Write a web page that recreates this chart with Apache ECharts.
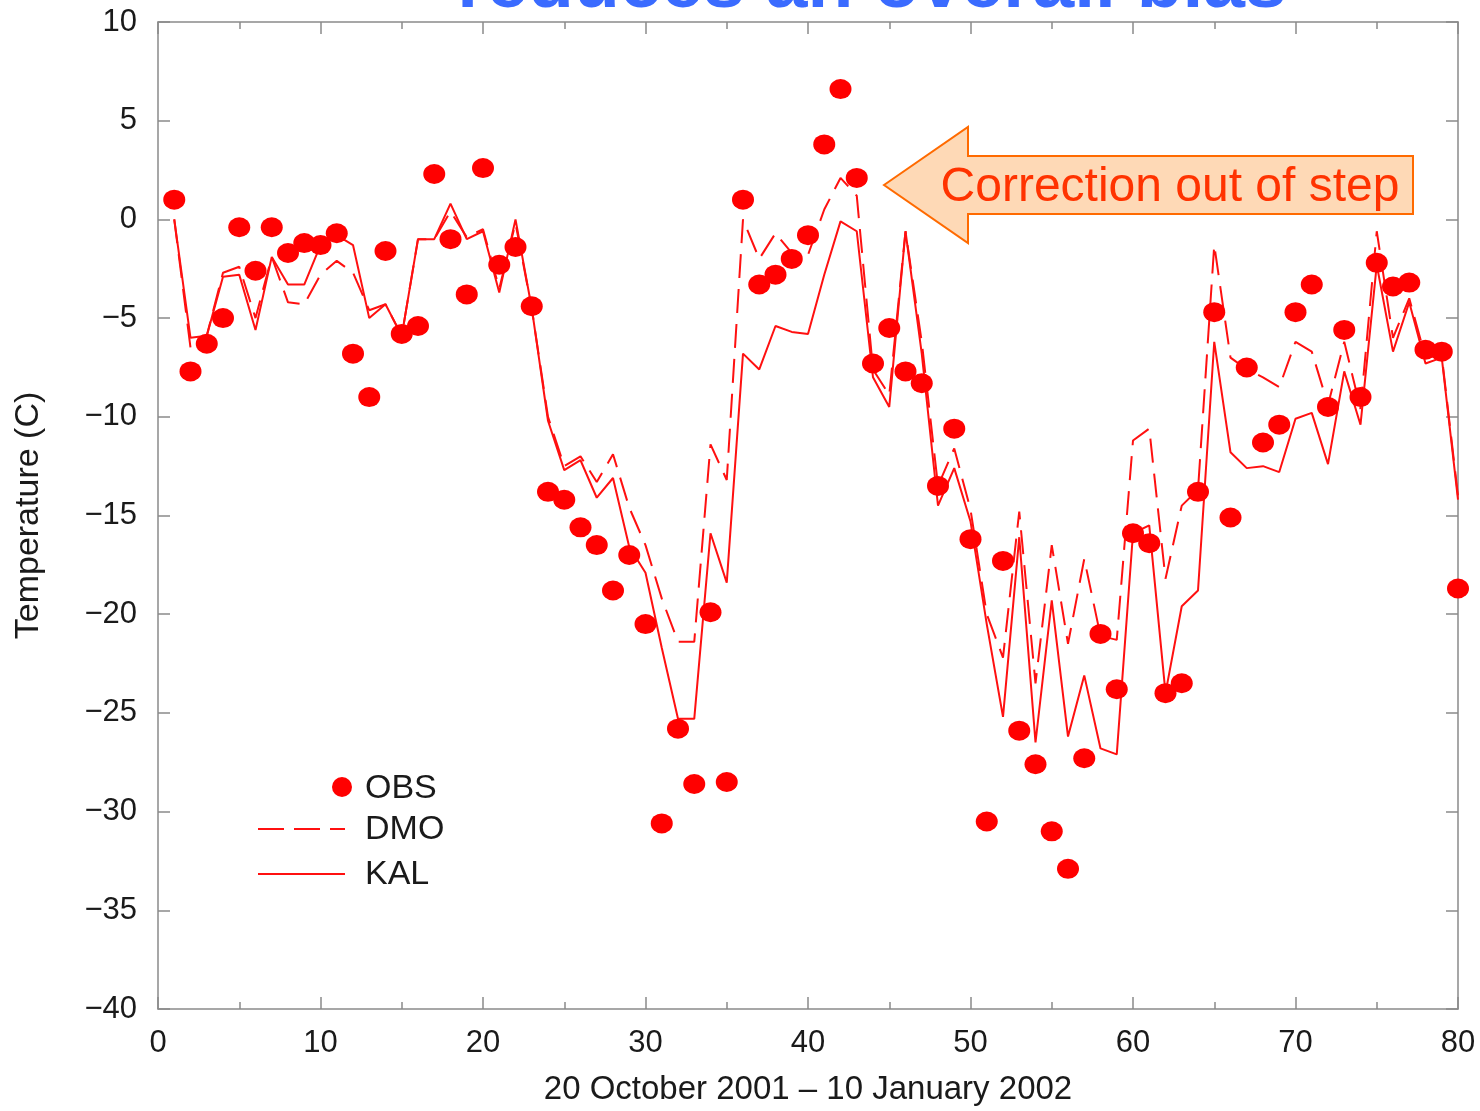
<!DOCTYPE html>
<html>
<head>
<meta charset="utf-8">
<title>Temperature: OBS / DMO / KAL</title>
<script src="https://cdn.jsdelivr.net/npm/echarts@6/dist/echarts.min.js"></script>
<style>
  html, body { margin: 0; padding: 0; background: #fff; }
  #chart { width: 1480px; height: 1111px; }
</style>
</head>
<body>
<div id="chart"></div>
<script>
// Daily 2 m temperature (C), 20 October 2001 - 10 January 2002, day 1..80
const obs = [
  1.0, -7.7, -6.3, -5.0, -0.4, -2.6, -0.4, -1.7, -1.2, -1.3,
  -0.7, -6.8, -9.0, -1.6, -5.8, -5.4, 2.3, -1.0, -3.8, 2.6,
  -2.3, -1.4, -4.4, -13.8, -14.2, -15.6, -16.5, -18.8, -17.0, -20.5,
  -30.6, -25.8, -28.6, -19.9, -28.5, 1.0, -3.3, -2.8, -2.0, -0.8,
  3.8, 6.6, 2.1, -7.3, -5.5, -7.7, -8.3, -13.5, -10.6, -16.2,
  -30.5, -17.3, -25.9, -27.6, -31.0, -32.9, -27.3, -21.0, -23.8, -15.9,
  -16.4, -24.0, -23.5, -13.8, -4.7, -15.1, -7.5, -11.3, -10.4, -4.7,
  -3.3, -9.5, -5.6, -9.0, -2.2, -3.4, -3.2, -6.6, -6.7, -18.7
];
// Direct model output
const dmo = [
  0.0, -6.5, -5.9, -2.7, -2.4, -5.0, -1.9, -4.2, -4.3, -2.8,
  -2.1, -2.7, -4.6, -4.3, -5.9, -1.0, -1.0, 0.4, -0.9, -0.5,
  -3.5, -0.2, -4.5, -10.0, -12.5, -12.0, -13.3, -11.9, -14.6, -16.5,
  -19.2, -21.4, -21.4, -11.4, -13.2, 0.0, -2.0, -0.7, -1.7, -1.8,
  0.5, 2.1, 1.2, -7.6, -8.9, -0.6, -6.2, -13.5, -11.6, -14.7,
  -20.0, -22.2, -14.8, -23.5, -16.5, -21.5, -17.2, -21.1, -21.3, -11.2,
  -10.6, -18.2, -14.5, -13.7, -1.3, -7.0, -7.6, -8.0, -8.5, -6.2,
  -6.7, -9.4, -6.2, -9.6, -0.6, -6.0, -4.0, -7.0, -6.9, -14.0
];
// Kalman-filtered forecast
const kal = [
  0.0, -6.0, -5.9, -2.9, -2.8, -5.6, -1.9, -3.3, -3.3, -1.3,
  -0.8, -1.3, -5.0, -4.3, -5.9, -1.0, -1.0, 0.8, -1.0, -0.6,
  -3.7, 0.0, -4.5, -10.2, -12.7, -12.2, -14.1, -13.1, -16.6, -17.9,
  -21.7, -25.3, -25.3, -15.9, -18.4, -6.8, -7.6, -5.4, -5.7, -5.8,
  -2.8, -0.1, -0.6, -8.0, -9.5, -0.6, -6.8, -14.5, -12.6, -15.3,
  -20.5, -25.2, -16.1, -26.5, -19.3, -26.2, -23.1, -26.8, -27.1, -15.9,
  -15.5, -24.0, -19.6, -18.8, -6.2, -11.8, -12.6, -12.5, -12.8, -10.1,
  -9.8, -12.4, -7.7, -10.4, -2.3, -6.7, -4.2, -7.3, -7.0, -14.2
];
const seriesNames = ['OBS', 'DMO', 'KAL'];
const xAxisTitle = '20 October 2001 \u2013 10 January 2002';
const yAxisTitle = 'Temperature (C)';
const headline = 'reduces an overall bias';
const calloutText = 'Correction out of step';

const toPairs = arr => arr.map((v, i) => [i + 1, v]);

const FONT = "'Liberation Sans', Arial, Helvetica, sans-serif";
const RED = '#ff1010';
const AXIS = '#8a8a8a';
const INK = '#1a1a1a';

const fmtMinus = v => String(v).replace('-', '\u2212');

const frameLine = { show: true, onZero: false, lineStyle: { color: AXIS, width: 1.5 } };
const majorTick = { show: true, inside: true, length: 12, lineStyle: { color: AXIS, width: 1.5 } };
const minorTick = { show: true, splitNumber: 2, length: 7, lineStyle: { color: AXIS, width: 1.5 } };

const chart = echarts.init(document.getElementById('chart'), null, { renderer: 'canvas' });

chart.setOption({
  backgroundColor: '#ffffff',
  animation: false,
  grid: { left: 158, right: 22, top: 22, bottom: 97, containLabel: false },
  xAxis: [
    {
      type: 'value', min: 0, max: 80, interval: 10, position: 'bottom',
      axisLine: frameLine, axisTick: majorTick, minorTick: minorTick,
      splitLine: { show: false },
      axisLabel: { color: INK, fontFamily: FONT, fontSize: 31, margin: 19 },
      name: xAxisTitle, nameLocation: 'middle', nameGap: 64,
      nameTextStyle: { color: INK, fontFamily: FONT, fontSize: 33 }
    },
    {
      type: 'value', min: 0, max: 80, interval: 10, position: 'top',
      axisLine: frameLine, axisTick: majorTick, minorTick: minorTick,
      splitLine: { show: false },
      axisLabel: { show: false }
    }
  ],
  yAxis: [
    {
      type: 'value', min: -40, max: 10, interval: 5, position: 'left',
      axisLine: frameLine, axisTick: majorTick,
      splitLine: { show: false },
      axisLabel: { color: INK, fontFamily: FONT, fontSize: 31, margin: 21, formatter: fmtMinus },
      name: yAxisTitle, nameLocation: 'middle', nameGap: 112, nameRotate: 90,
      nameTextStyle: { color: INK, fontFamily: FONT, fontSize: 34 }
    },
    {
      type: 'value', min: -40, max: 10, interval: 5, position: 'right',
      axisLine: frameLine, axisTick: majorTick,
      splitLine: { show: false },
      axisLabel: { show: false }
    }
  ],
  series: [
    {
      name: seriesNames[1], type: 'line', data: toPairs(dmo),
      xAxisIndex: 0, yAxisIndex: 0,
      symbol: 'none', z: 2,
      lineStyle: { color: RED, width: 2, type: [24, 11] }
    },
    {
      name: seriesNames[2], type: 'line', data: toPairs(kal),
      xAxisIndex: 0, yAxisIndex: 0,
      symbol: 'none', z: 3,
      lineStyle: { color: RED, width: 2, type: 'solid' }
    },
    {
      name: seriesNames[0], type: 'scatter', data: toPairs(obs),
      xAxisIndex: 0, yAxisIndex: 0,
      symbol: 'circle', symbolSize: [22, 20], z: 4,
      itemStyle: { color: '#ff0000', opacity: 1 }
    }
  ],
  graphic: [
    // headline running off the top edge
    {
      type: 'text', z: 20,
      x: 872, y: -51,
      style: {
        text: headline,
        fill: '#3a6bff', font: "bold 75px " + FONT,
        textAlign: 'center', textVerticalAlign: 'top'
      }
    },
    // block arrow callout
    {
      type: 'polygon', z: 20,
      shape: {
        points: [[884, 185], [968, 127], [968, 156], [1413, 156], [1413, 214], [968, 214], [968, 243]]
      },
      style: { fill: '#fed9b6', stroke: '#ff6a00', lineWidth: 2 }
    },
    {
      type: 'text', z: 21,
      x: 1170, y: 188,
      style: {
        text: calloutText, fill: '#ff3300', font: "48px " + FONT,
        textAlign: 'center', textVerticalAlign: 'middle'
      }
    },
    // legend
    {
      type: 'circle', z: 20,
      shape: { cx: 342, cy: 787, r: 10 },
      style: { fill: '#ff0000' }
    },
    {
      type: 'line', z: 20,
      shape: { x1: 258, y1: 829, x2: 345, y2: 829 },
      style: { stroke: RED, lineWidth: 2, lineDash: [26, 10] }
    },
    {
      type: 'line', z: 20,
      shape: { x1: 258, y1: 874, x2: 345, y2: 874 },
      style: { stroke: RED, lineWidth: 2 }
    },
    {
      type: 'text', z: 20, x: 365, y: 789,
      style: { text: seriesNames[0], fill: INK, font: "34px " + FONT, textVerticalAlign: 'middle' }
    },
    {
      type: 'text', z: 20, x: 365, y: 830,
      style: { text: seriesNames[1], fill: INK, font: "34px " + FONT, textVerticalAlign: 'middle' }
    },
    {
      type: 'text', z: 20, x: 365, y: 875,
      style: { text: seriesNames[2], fill: INK, font: "34px " + FONT, textVerticalAlign: 'middle' }
    }
  ]
});
</script>
</body>
</html>
